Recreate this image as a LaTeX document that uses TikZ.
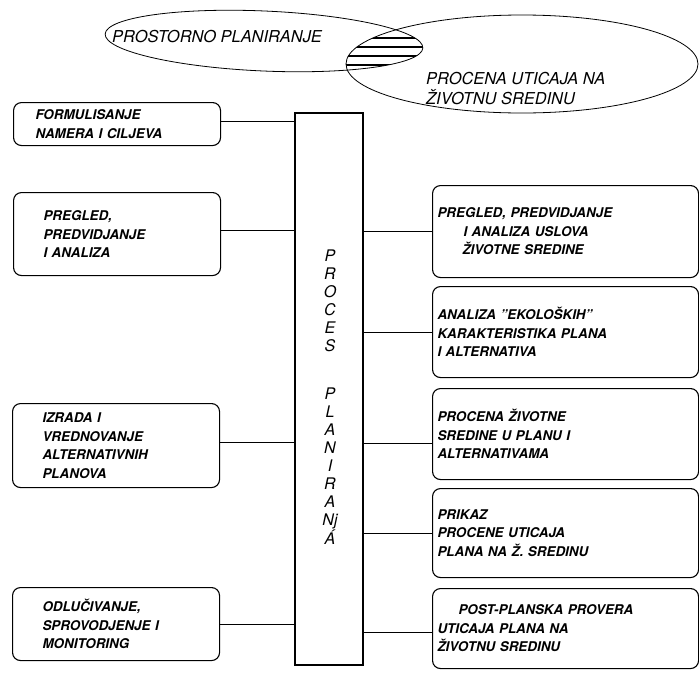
\documentclass[tikz,border=0pt]{standalone}
\usepackage{fontspec}
\setmainfont{TeX Gyre Heros}
\usetikzlibrary{positioning}
\tikzset{
  stepbox/.style = {draw, rounded corners=8pt, line width=1.1pt, anchor=north west,
    align=left, inner ysep=0pt,
    font=\bfseries\itshape\fontsize{13.4}{18.5}\selectfont},
  leftbox/.style = {stepbox, minimum width=207pt, text width=147pt, inner xsep=30pt},
  rightbox/.style = {stepbox, minimum width=266pt, text width=256pt, inner xsep=5pt},
  procbox/.style = {draw, line width=1.6pt, minimum width=68pt, minimum height=552pt},
  procword/.style = {align=center, inner sep=0pt, font=\itshape\fontsize{16}{18}\selectfont},
  oval/.style = {line width=0.8pt},
  ovaltext/.style = {inner sep=0pt, font=\itshape\fontsize{16.4}{20}\selectfont},
  hatch/.style = {line width=1.2pt},
  conn/.style = {line width=1pt}
}

\begin{document}
\begin{tikzpicture}[x=1pt, y=-1pt]
  \useasboundingbox (0,0) rectangle (699,675);

  % the two overlapping fields
  \draw[oval, rotate around={-2.5:(264,41)}] (264,41) ellipse [x radius=159pt, y radius=30pt];
  \draw[oval] (522,64) ellipse [x radius=176pt, y radius=49pt];
  \begin{scope}
    \clip[rotate around={-2.5:(264,41)}] (264,41) ellipse [x radius=159pt, y radius=30pt];
    \clip (522,64) ellipse [x radius=176pt, y radius=49pt];
    \foreach \y in {28,38,47,56,65}
      \draw[hatch] (340,\y) -- (440,\y);
  \end{scope}
  \node[ovaltext, anchor=west] (prost) at (112,37) {PROSTORNO PLANIRANJE};
  \node[ovaltext, anchor=north west, align=left] (procena) at (426,72) {PROCENA UTICAJA NA\\ŽIVOTNU SREDINU};

  % planning process column
  \node[procbox] (proc) at (329,389) {};
  \node[procword] (word) at (330,397) {P\\R\\O\\C\\E\\S\\[30pt]P\\L\\A\\N\\I\\R\\A\\Nj\\Á};

  % left column
  \node[leftbox, text width=163pt, inner xsep=22pt, minimum height=43pt] (form) at (13,102) {FORMULISANJE\\NAMERA I CILJEVA};
  \node[leftbox, minimum height=83pt] (pregl) at (13,192) {PREGLED,\\PREDVIDJANJE\\I ANALIZA};
  \node[leftbox, minimum height=84pt] (izrada) at (12,403) {IZRADA I\\VREDNOVANJE\\ALTERNATIVNIH\\PLANOVA};
  \node[leftbox, minimum height=73pt] (odluc) at (12,587) {ODLUČIVANJE,\\SPROVODJENJE I\\MONITORING};

  % right column
  \node[rightbox, minimum height=92pt] (uslov) at (432,185) {PREGLED, PREDVIDJANJE\\\hspace*{26pt}I ANALIZA USLOVA\\\hspace*{25pt}ŽIVOTNE SREDINE};
  \node[rightbox, minimum height=91pt] (ekol) at (432,286) {ANALIZA "EKOLOŠKIH"\\KARAKTERISTIKA PLANA\\I ALTERNATIVA};
  \node[rightbox, minimum height=91pt] (procz) at (432,388) {PROCENA ŽIVOTNE\\SREDINE U PLANU I\\ALTERNATIVAMA};
  \node[rightbox, minimum height=89pt] (prikaz) at (432,488) {PRIKAZ\\PROCENE UTICAJA\\PLANA NA Ž. SREDINU};
  \node[rightbox, minimum height=80pt] (post) at (432,588) {\hspace*{21pt}POST-PLANSKA PROVERA\\UTICAJA PLANA NA\\ŽIVOTNU SREDINU};

  % links to the column
  \draw[conn] ([yshift=3pt]form.east) -- ([yshift=3pt]form.east -| proc.west);
  \draw[conn] ([yshift=4pt]pregl.east) -- ([yshift=4pt]pregl.east -| proc.west);
  \draw[conn] ([yshift=3pt]izrada.east) -- ([yshift=3pt]izrada.east -| proc.west);
  \draw[conn] (odluc.east) -- (odluc.east -| proc.west);
  \draw[conn] (uslov.west) -- (uslov.west -| proc.east);
  \draw[conn] (ekol.west) -- (ekol.west -| proc.east);
  \draw[conn] ([yshift=-9pt]procz.west) -- ([yshift=-9pt]procz.west -| proc.east);
  \draw[conn] (prikaz.west) -- (prikaz.west -| proc.east);
  \draw[conn] ([yshift=-4pt]post.west) -- ([yshift=-4pt]post.west -| proc.east);
\end{tikzpicture}
\end{document}
